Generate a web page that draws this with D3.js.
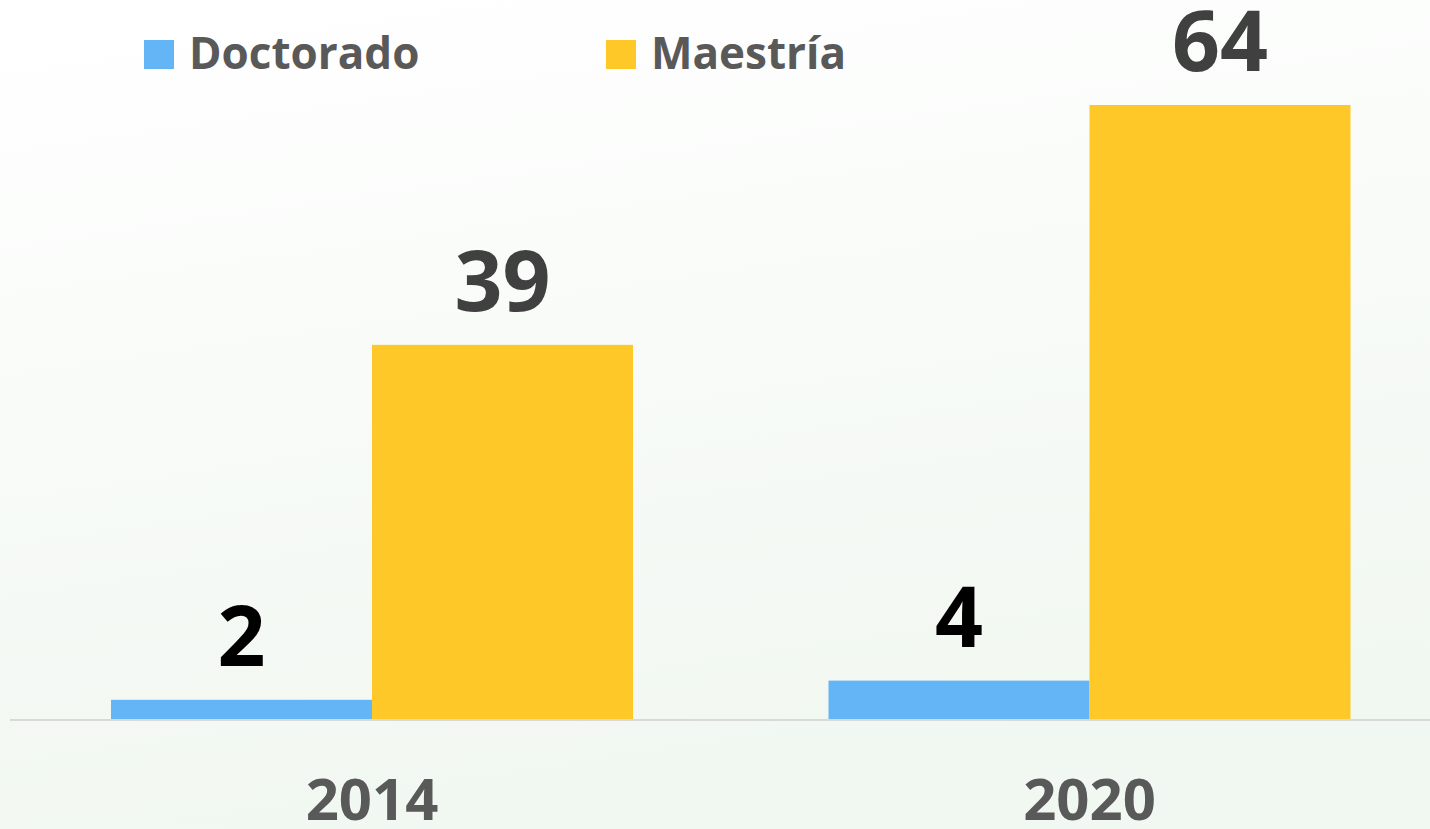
<!DOCTYPE html>
<html>
<head>
<meta charset="utf-8">
<script src="https://cdn.jsdelivr.net/npm/d3@7"></script>
<style>
  html, body { margin: 0; padding: 0; overflow: hidden; }
  text { font-family: "Open Sans", "DejaVu Sans", sans-serif; font-weight: bold; }
</style>
</head>
<body>
<script>
// data
var years = ["2014", "2020"];
var series = ["Doctorado", "Maestría"];
var doctorado = [2, 4];
var maestria = [39, 64];

var svgWidth = 1430;
var svgHeight = 829;

var colors = { "Doctorado": "#63b5f6", "Maestría": "#fec828" };
var labelColors = { "Doctorado": "#000000", "Maestría": "#404040" };

var svg = d3.select("body")
    .append("svg")
    .attr("width", svgWidth)
    .attr("height", svgHeight);

// soft background
var grad = svg.append("defs").append("linearGradient")
    .attr("id", "bg")
    .attr("x1", "0").attr("y1", "0")
    .attr("x2", "0.25").attr("y2", "1");
grad.append("stop").attr("offset", "0%").attr("stop-color", "#ffffff");
grad.append("stop").attr("offset", "100%").attr("stop-color", "#f1f7f1");
svg.append("rect")
    .attr("width", svgWidth)
    .attr("height", svgHeight)
    .attr("fill", "url(#bg)");

var baseline = 719;

// scales
var x0 = d3.scaleBand()
    .domain(years)
    .range([13.25, 1448.25])
    .paddingInner(0.2725)
    .paddingOuter(0.13625);

var x1 = d3.scaleBand()
    .domain(series)
    .range([0, x0.bandwidth()]);

var y = d3.scaleLinear()
    .domain([0, 64])
    .range([baseline, 105]);

var rows = years.map(function(yr, i) {
    return { year: yr, values: [
        { key: "Doctorado", value: doctorado[i] },
        { key: "Maestría", value: maestria[i] }
    ]};
});

// axis line
svg.append("line")
    .attr("x1", 10).attr("x2", svgWidth)
    .attr("y1", baseline + 1).attr("y2", baseline + 1)
    .attr("stroke", "#d9d9d9")
    .attr("stroke-width", 2);

var groups = svg.selectAll(".grp")
    .data(rows)
    .enter()
    .append("g")
    .attr("class", "grp")
    .attr("transform", d => `translate(${x0(d.year)},0)`);

groups.selectAll("rect")
    .data(d => d.values)
    .enter()
    .append("rect")
    .attr("x", d => x1(d.key))
    .attr("y", d => y(d.value))
    .attr("width", x1.bandwidth())
    .attr("height", d => baseline - y(d.value))
    .attr("fill", d => colors[d.key]);

groups.selectAll(".val")
    .data(d => d.values)
    .enter()
    .append("text")
    .attr("class", "val")
    .attr("x", d => x1(d.key) + x1.bandwidth() / 2)
    .attr("y", d => y(d.value) - 34)
    .attr("text-anchor", "middle")
    .style("font-size", "84px")
    .attr("fill", d => labelColors[d.key])
    .text(d => d.value);

// year labels
svg.selectAll(".yr")
    .data(years)
    .enter()
    .append("text")
    .attr("class", "yr")
    .attr("x", d => x0(d) + x0.bandwidth() / 2)
    .attr("y", 820)
    .attr("text-anchor", "middle")
    .style("font-size", "58px")
    .attr("fill", "#595959")
    .text(d => d);

// legend
var legendX = [144, 606];
var legend = svg.selectAll(".leg")
    .data(series)
    .enter()
    .append("g")
    .attr("class", "leg")
    .attr("transform", (d, i) => `translate(${legendX[i]},40)`);

legend.append("rect")
    .attr("width", 30)
    .attr("height", 29)
    .attr("fill", d => colors[d]);

legend.append("text")
    .attr("x", 45)
    .attr("y", 29)
    .style("font-size", "44px")
    .attr("fill", "#595959")
    .text(d => d);
</script>
</body>
</html>
